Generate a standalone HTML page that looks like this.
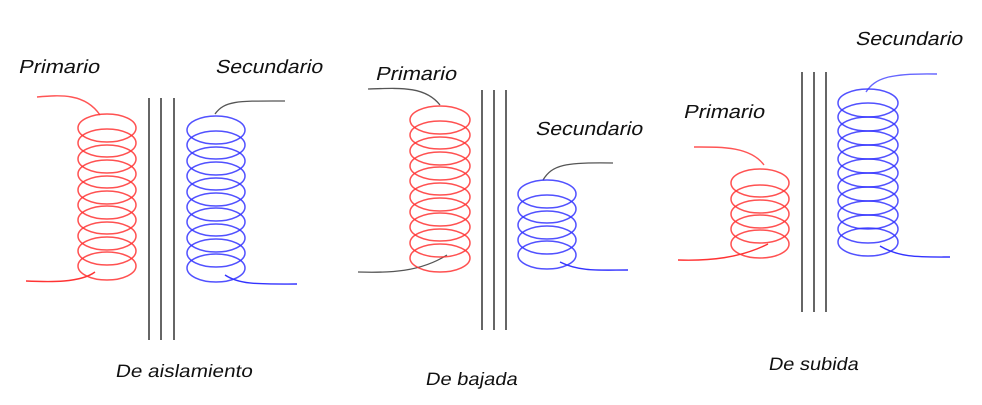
<!DOCTYPE html>
<html><head><meta charset="utf-8"><style>
html,body{margin:0;padding:0;background:#fff;}
svg{display:block}
text{font-family:"Liberation Sans","DejaVu Sans",sans-serif;fill:#111}
.r ellipse{fill:none;stroke:#f33;stroke-width:1.5;stroke-opacity:.85}
.b ellipse{fill:none;stroke:#33f;stroke-width:1.5;stroke-opacity:.85}
.core{stroke:#000;stroke-width:1.2}
</style></head><body>
<svg width="982" height="405" viewBox="0 0 982 405" xmlns="http://www.w3.org/2000/svg">
<g transform="translate(18,73) skewX(-13)"><text x="0" y="0" font-size="19" textLength="81" lengthAdjust="spacingAndGlyphs">Primario</text></g>
<g transform="translate(215,73) skewX(-13)"><text x="0" y="0" font-size="19" textLength="107" lengthAdjust="spacingAndGlyphs">Secundario</text></g>
<g transform="translate(375,80) skewX(-13)"><text x="0" y="0" font-size="19" textLength="81" lengthAdjust="spacingAndGlyphs">Primario</text></g>
<g transform="translate(535,135) skewX(-13)"><text x="0" y="0" font-size="19" textLength="107" lengthAdjust="spacingAndGlyphs">Secundario</text></g>
<g transform="translate(683,118) skewX(-13)"><text x="0" y="0" font-size="19" textLength="81" lengthAdjust="spacingAndGlyphs">Primario</text></g>
<g transform="translate(855,45) skewX(-13)"><text x="0" y="0" font-size="19" textLength="107" lengthAdjust="spacingAndGlyphs">Secundario</text></g>
<g transform="translate(115,377) skewX(-10)"><text x="0" y="0" font-size="18" textLength="137" lengthAdjust="spacingAndGlyphs">De aislamiento</text></g>
<g transform="translate(425,385) skewX(-10)"><text x="0" y="0" font-size="18" textLength="92" lengthAdjust="spacingAndGlyphs">De bajada</text></g>
<g transform="translate(768,370) skewX(-10)"><text x="0" y="0" font-size="18" textLength="90" lengthAdjust="spacingAndGlyphs">De subida</text></g>

<g class="core">
<line x1="149" y1="98" x2="149" y2="340"/><line x1="161" y1="98" x2="161" y2="340"/><line x1="174" y1="98" x2="174" y2="340"/>
<line x1="482" y1="90" x2="482" y2="330"/><line x1="494" y1="90" x2="494" y2="330"/><line x1="506" y1="90" x2="506" y2="330"/>
<line x1="802" y1="72" x2="802" y2="312"/><line x1="814" y1="72" x2="814" y2="312"/><line x1="826" y1="72" x2="826" y2="312"/>
</g>

<g class="r">
<path d="M37 97 C60 95 85 93 100 115" fill="none" stroke="#f55" stroke-width="1.4"/>
<path d="M26 281 C50 282 80 283 95 272" fill="none" stroke="#f33" stroke-width="1.4"/>
<ellipse cx="107" cy="128" rx="29" ry="14"/><ellipse cx="107" cy="143" rx="29" ry="14"/>
<ellipse cx="107" cy="159" rx="29" ry="14"/><ellipse cx="107" cy="174" rx="29" ry="14"/>
<ellipse cx="107" cy="190" rx="29" ry="14"/><ellipse cx="107" cy="205" rx="29" ry="14"/>
<ellipse cx="107" cy="220" rx="29" ry="14"/><ellipse cx="107" cy="236" rx="29" ry="14"/>
<ellipse cx="107" cy="251" rx="29" ry="14"/><ellipse cx="107" cy="266" rx="29" ry="14"/>
</g>
<g class="b">
<path d="M215 114 C225 100 240 101 285 101" fill="none" stroke="#555" stroke-width="1.3"/>
<path d="M225 275 C240 285 260 284 297 284" fill="none" stroke="#33f" stroke-width="1.4"/>
<ellipse cx="216" cy="130" rx="29" ry="14"/><ellipse cx="216" cy="145" rx="29" ry="14"/>
<ellipse cx="216" cy="161" rx="29" ry="14"/><ellipse cx="216" cy="176" rx="29" ry="14"/>
<ellipse cx="216" cy="192" rx="29" ry="14"/><ellipse cx="216" cy="207" rx="29" ry="14"/>
<ellipse cx="216" cy="222" rx="29" ry="14"/><ellipse cx="216" cy="238" rx="29" ry="14"/>
<ellipse cx="216" cy="253" rx="29" ry="14"/><ellipse cx="216" cy="268" rx="29" ry="14"/>
</g>

<g class="r">
<path d="M368 89 C400 88 425 86 440 105" fill="none" stroke="#555" stroke-width="1.3"/>
<path d="M358 272 C390 273 420 272 447 255" fill="none" stroke="#555" stroke-width="1.3"/>
<ellipse cx="440" cy="120" rx="30" ry="14"/><ellipse cx="440" cy="135" rx="30" ry="14"/>
<ellipse cx="440" cy="151" rx="30" ry="14"/><ellipse cx="440" cy="166" rx="30" ry="14"/>
<ellipse cx="440" cy="181" rx="30" ry="14"/><ellipse cx="440" cy="197" rx="30" ry="14"/>
<ellipse cx="440" cy="212" rx="30" ry="14"/><ellipse cx="440" cy="227" rx="30" ry="14"/>
<ellipse cx="440" cy="243" rx="30" ry="14"/><ellipse cx="440" cy="258" rx="30" ry="14"/>
</g>
<g class="b">
<path d="M543 180 C552 165 565 162 613 163" fill="none" stroke="#555" stroke-width="1.3"/>
<path d="M560 262 C580 272 600 270 628 270" fill="none" stroke="#33f" stroke-width="1.4"/>
<ellipse cx="547" cy="194" rx="29" ry="14"/><ellipse cx="547" cy="209" rx="29" ry="14"/>
<ellipse cx="547" cy="225" rx="29" ry="14"/><ellipse cx="547" cy="240" rx="29" ry="14"/>
<ellipse cx="547" cy="255" rx="29" ry="14"/>
</g>

<g class="r">
<path d="M694 147 C720 147 750 146 764 165" fill="none" stroke="#f55" stroke-width="1.4"/>
<path d="M678 260 C710 261 740 258 768 244" fill="none" stroke="#f33" stroke-width="1.4"/>
<ellipse cx="760" cy="183" rx="29" ry="14"/><ellipse cx="760" cy="199" rx="29" ry="14"/>
<ellipse cx="760" cy="214" rx="29" ry="14"/><ellipse cx="760" cy="229" rx="29" ry="14"/>
<ellipse cx="760" cy="244" rx="29" ry="14"/>
</g>
<g class="b">
<path d="M866 92 C875 78 890 73 937 74" fill="none" stroke="#66f" stroke-width="1.4"/>
<path d="M880 246 C900 258 920 257 950 257" fill="none" stroke="#33f" stroke-width="1.4"/>
<ellipse cx="868" cy="103" rx="30" ry="14"/><ellipse cx="868" cy="117" rx="30" ry="14"/>
<ellipse cx="868" cy="131" rx="30" ry="14"/><ellipse cx="868" cy="145" rx="30" ry="14"/>
<ellipse cx="868" cy="159" rx="30" ry="14"/><ellipse cx="868" cy="173" rx="30" ry="14"/>
<ellipse cx="868" cy="187" rx="30" ry="14"/><ellipse cx="868" cy="201" rx="30" ry="14"/>
<ellipse cx="868" cy="215" rx="30" ry="14"/><ellipse cx="868" cy="229" rx="30" ry="14"/>
<ellipse cx="868" cy="242" rx="30" ry="14"/>
</g>
</svg>
</body></html>
